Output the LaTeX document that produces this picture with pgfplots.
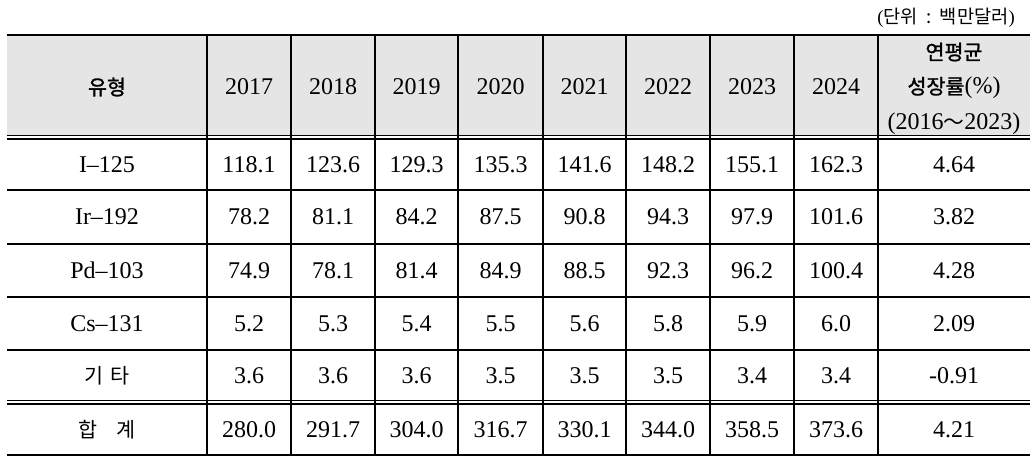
\documentclass[border=0pt]{standalone}
\usepackage{fontspec}
\setmainfont{Liberation Serif}
\newfontfamily\kr{Noto Sans CJK KR}
\newfontfamily\krb[FakeBold=1.3]{Noto Sans CJK KR}
\usepackage{pgfplots}
\pgfplotsset{compat=1.18}
\definecolor{hdr}{RGB}{229,229,229}
\newcommand\numfont{\fontsize{18}{21}\selectfont}
\newcommand\krfont{\fontsize{15.5}{18}\selectfont}
\begin{document}
\begin{tikzpicture}
\begin{axis}[
  width=774pt, height=350.25pt, scale only axis,
  xmin=0, xmax=1032, ymin=0, ymax=467, y dir=reverse,
  hide axis, clip=false,
  nodes near coords, point meta=explicit symbolic,
  nodes near coords style={anchor=center, inner sep=0pt, font=\numfont},
]
% header background
\fill[hdr] (axis cs:7,36) rectangle (axis cs:1030,136);
% horizontal rules
\draw[line width=2.2pt] (axis cs:7,35) -- (axis cs:1030,35);
\draw[line width=2.2pt] (axis cs:7,455) -- (axis cs:1030,455);
\draw[line width=0.8pt] (axis cs:7,135.8) -- (axis cs:1030,135.8);
\draw[line width=0.8pt] (axis cs:7,139) -- (axis cs:1030,139);
\draw[line width=0.8pt] (axis cs:7,400.8) -- (axis cs:1030,400.8);
\draw[line width=0.8pt] (axis cs:7,404) -- (axis cs:1030,404);
\draw[line width=0.8pt] (axis cs:7,190) -- (axis cs:1030,190);
\draw[line width=0.8pt] (axis cs:7,244) -- (axis cs:1030,244);
\draw[line width=0.8pt] (axis cs:7,297) -- (axis cs:1030,297);
\draw[line width=0.8pt] (axis cs:7,350) -- (axis cs:1030,350);
% vertical rules
\pgfplotsinvokeforeach{207,291,375,458,543,626,710,794,878}{
  \draw[line width=0.8pt] (axis cs:#1,36.5) -- (axis cs:#1,454);
}
% unit
\node[anchor=east, inner sep=0pt] at (axis cs:1015,18) {\fontsize{14}{16}\selectfont(\kr 단위\hspace{0.45em}:\hspace{0.45em}백만달러\rmfamily)};
% header
\node[inner sep=0pt] at (axis cs:107,87) {\krb\krfont 유형};
\addplot[draw=none, mark=none] coordinates {
  (249,87) [2017] (333,87) [2018] (416.5,87) [2019] (500.5,87) [2020]
  (584.5,87) [2021] (668,87) [2022] (752,87) [2023] (836,87) [2024]};
\node[inner sep=0pt] at (axis cs:954,52) {\krb\krfont 연평균};
\node[inner sep=0pt] at (axis cs:954,88) {\numfont{\krb\krfont 성장률}(\%)};
\node[inner sep=0pt] at (axis cs:954,123.5) {\numfont(2016{\kr\krfont ～}2023)};
% row labels
\node[inner sep=0pt] at (axis cs:107,164.5) {\numfont I--125};
\node[inner sep=0pt] at (axis cs:107,217) {\numfont Ir--192};
\node[inner sep=0pt] at (axis cs:107,270.5) {\numfont Pd--103};
\node[inner sep=0pt] at (axis cs:107,323.5) {\numfont Cs--131};
\node[inner sep=0pt] at (axis cs:107,375.5) {\kr\krfont 기\hspace{0.3em}타};
\node[inner sep=0pt] at (axis cs:107,429.5) {\kr\krfont 합\hspace{0.9em}계};
% I-125
\addplot[draw=none, mark=none] coordinates {
  (249,164.5) [118.1] (333,164.5) [123.6] (416.5,164.5) [129.3] (500.5,164.5) [135.3]
  (584.5,164.5) [141.6] (668,164.5) [148.2] (752,164.5) [155.1] (836,164.5) [162.3] (954,164.5) [4.64]};
% Ir-192
\addplot[draw=none, mark=none] coordinates {
  (249,217) [78.2] (333,217) [81.1] (416.5,217) [84.2] (500.5,217) [87.5]
  (584.5,217) [90.8] (668,217) [94.3] (752,217) [97.9] (836,217) [101.6] (954,217) [3.82]};
% Pd-103
\addplot[draw=none, mark=none] coordinates {
  (249,270.5) [74.9] (333,270.5) [78.1] (416.5,270.5) [81.4] (500.5,270.5) [84.9]
  (584.5,270.5) [88.5] (668,270.5) [92.3] (752,270.5) [96.2] (836,270.5) [100.4] (954,270.5) [4.28]};
% Cs-131
\addplot[draw=none, mark=none] coordinates {
  (249,323.5) [5.2] (333,323.5) [5.3] (416.5,323.5) [5.4] (500.5,323.5) [5.5]
  (584.5,323.5) [5.6] (668,323.5) [5.8] (752,323.5) [5.9] (836,323.5) [6.0] (954,323.5) [2.09]};
% other
\addplot[draw=none, mark=none] coordinates {
  (249,375.5) [3.6] (333,375.5) [3.6] (416.5,375.5) [3.6] (500.5,375.5) [3.5]
  (584.5,375.5) [3.5] (668,375.5) [3.5] (752,375.5) [3.4] (836,375.5) [3.4] (954,375.5) [-0.91]};
% total
\addplot[draw=none, mark=none] coordinates {
  (249,429.5) [280.0] (333,429.5) [291.7] (416.5,429.5) [304.0] (500.5,429.5) [316.7]
  (584.5,429.5) [330.1] (668,429.5) [344.0] (752,429.5) [358.5] (836,429.5) [373.6] (954,429.5) [4.21]};
\end{axis}
\pgfresetboundingbox
\path[use as bounding box] (current axis.south west) rectangle (current axis.north east);
\end{tikzpicture}
\end{document}
